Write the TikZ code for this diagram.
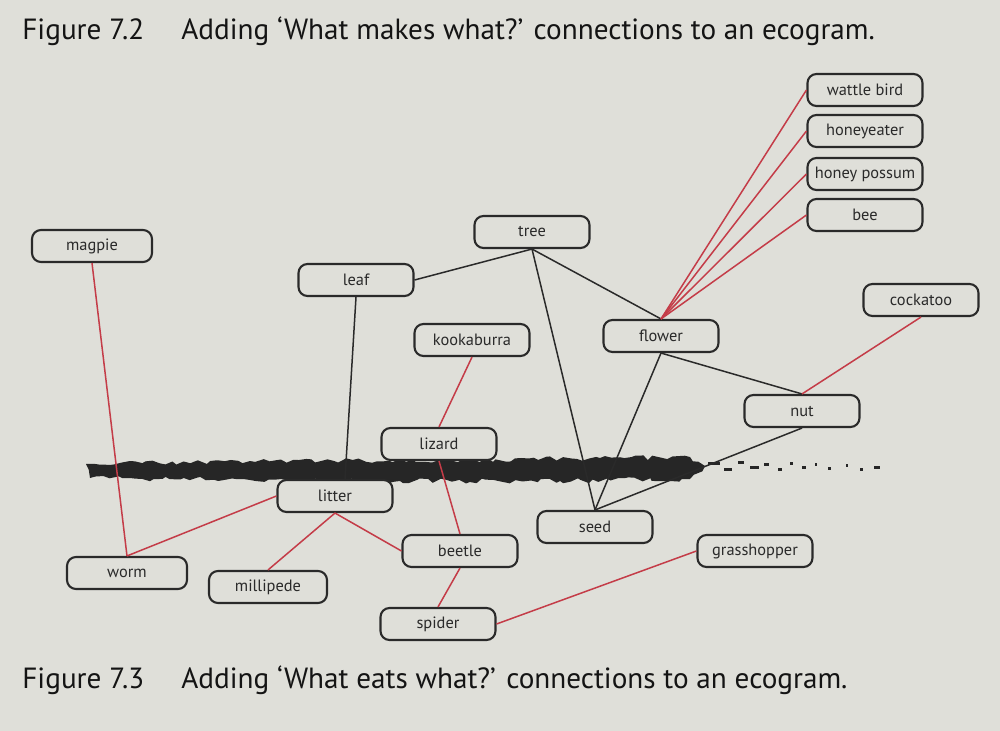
\documentclass[tikz,border=0pt]{standalone}
\usepackage{fontspec}
\setmainfont{PT Sans}
\usepackage{tikz}
\usetikzlibrary{positioning,decorations.pathmorphing}
\definecolor{paper}{HTML}{DFDFD9}
\definecolor{inkc}{HTML}{2A2A2A}
\definecolor{eatc}{HTML}{C43C48}
\definecolor{blotc}{HTML}{262626}
\tikzset{
  org/.style={draw=inkc,line width=1.05pt,rounded corners=4.5pt,fill=paper,text=inkc,
    minimum width=57.5pt,minimum height=16pt,inner sep=1pt,font=\fontsize{8.2}{9}\selectfont},
  makes/.style={inkc,line width=0.75pt},
  eats/.style={eatc,line width=0.75pt},
  figcap/.style={anchor=base west,inner sep=0pt,text=black!92,font=\fontsize{14.6}{16}\selectfont}
}
\pgfmathsetseed{11}
\begin{document}
\begin{tikzpicture}[x=0.5pt,y=-0.5pt]
\fill[paper] (0,0) rectangle (1000,731);
\useasboundingbox (0,0) rectangle (1000,731);
\node[figcap] (fig2) at (22,40) {Figure 7.2};
\node[figcap] (cap2) at (181,40) {Adding ‘What makes what?’ connections to an ecogram.};
\node[figcap] (fig3) at (22,688) {Figure 7.3};
\node[figcap] (cap3) at (181,688) {Adding ‘What eats what?’ connections to an ecogram.};
% ground line
\fill[blotc,decorate,decoration={random steps,segment length=3pt,amplitude=1.3pt}]
  (86,464) -- (250,461) -- (450,460) -- (600,458) -- (690,457) -- (705,466) -- (690,479) -- (560,481) -- (400,481) -- (250,480) -- (90,478) -- cycle;
\foreach \x/\y/\w in {708/462/12,724/468/8,738/461/6,750/466/9,764/463/5,778/468/4,790/462/3,802/466/4,815/463/2,828/467/3,846/464/2,860/468/3,874/466/6}
  \fill[blotc] (\x,\y) rectangle ++(\w,3);
% nodes
\node[org] (wattle) at (865,90) {wattle bird};
\node[org] (honeyeater) at (865,131) {honeyeater};
\node[org] (possum) at (865,174) {honey possum};
\node[org] (bee) at (865,215) {bee};
\node[org] (tree) at (532,232) {tree};
\node[org,minimum width=60pt] (magpie) at (92,246) {magpie};
\node[org] (leaf) at (356,280) {leaf};
\node[org] (cockatoo) at (921,300) {cockatoo};
\node[org] (kookaburra) at (472,340) {kookaburra};
\node[org] (flower) at (661,336) {flower};
\node[org] (nut) at (802,411) {nut};
\node[org] (lizard) at (439,444) {lizard};
\node[org] (litter) at (335,496) {litter};
\node[org] (seed) at (595,527) {seed};
\node[org] (beetle) at (460,551) {beetle};
\node[org] (grasshopper) at (755,551) {grasshopper};
\node[org,minimum width=60pt] (worm) at (127,573) {worm};
\node[org,minimum width=59pt] (millipede) at (268,587) {millipede};
\node[org] (spider) at (438,624) {spider};
% what makes what
\draw[makes] (tree.south) -- (leaf.east);
\draw[makes] (tree.south) -- (seed.north);
\draw[makes] (tree.south) -- (flower.north);
\draw[makes] (leaf.south) -- ([xshift=5pt]litter.north);
\draw[makes] (flower.south) -- (seed.north);
\draw[makes] (flower.south) -- (nut.north);
\draw[makes] (nut.south) -- (seed.north);
% what eats what
\foreach \n in {wattle,honeyeater,possum,bee}
  \draw[eats] (\n.west) -- (flower.north);
\draw[eats] (cockatoo.south) -- (nut.north);
\draw[eats] (magpie.south) -- (worm.north);
\draw[eats] (kookaburra.south) -- (lizard.north);
\draw[eats] (lizard.south) -- (beetle.north);
\draw[eats] (litter.west) -- (worm.north);
\draw[eats] (litter.south) -- (millipede.north);
\draw[eats] (litter.south) -- (beetle.west);
\draw[eats] (beetle.south) -- (spider.north);
\draw[eats] (spider.east) -- (grasshopper.west);
\end{tikzpicture}
\end{document}
